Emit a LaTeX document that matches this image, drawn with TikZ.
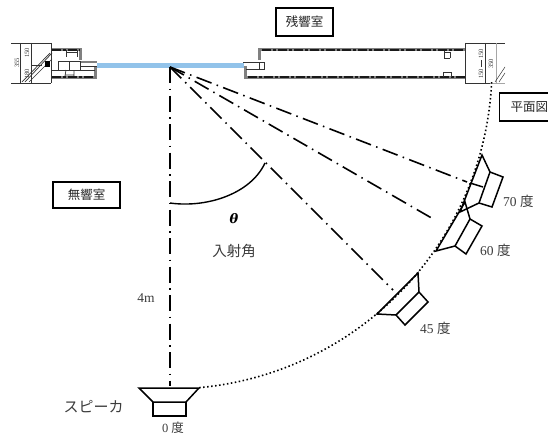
\documentclass[tikz,border=0pt]{standalone}
\usepackage{fontspec}
\setmainfont{Liberation Serif}
\newfontfamily\cjk{Noto Sans CJK JP}
\definecolor{mirrorblue}{HTML}{92C3EA}
\definecolor{labelgray}{HTML}{3C3C3C}
\tikzset{
  roomlabel/.style={draw=black,line width=1.6pt,inner sep=0pt,font=\cjk\fontsize{12.5}{14}\selectfont,text=black!85},
  plainlabel/.style={inner sep=0pt,text=labelgray,font=\fontsize{13.5}{15}\selectfont},
  ray/.style={line width=1.6pt,dash pattern=on 16pt off 5.5pt on 1.5pt off 5.5pt,black},
  spk/.style={line width=1.5pt,black,line join=miter},
  wallg/.style={line width=3pt,black!50},
  wallh/.style={line width=1.4pt,black!90,dash pattern=on 9pt off 2pt on 3pt off 2pt},
  thin1/.style={line width=.7pt,black!80},
  tinytext/.style={inner sep=0pt,rotate=90,text=black!80,font=\fontsize{6.5}{6.5}\selectfont}
}
\begin{document}
\begin{tikzpicture}[x=1pt,y=-1pt]
\useasboundingbox (0,0) rectangle (548,436);
\fill[white] (0,0) rectangle (548,436);
\begin{scope}
\clip (0,0) rectangle (548,436);
% coordinates
\coordinate (apex) at (170,67);
\coordinate (r0) at (170,386);
\coordinate (r45) at (393,290);
\coordinate (r60) at (435,220);
\coordinate (r70) at (467,182);
\coordinate (th1) at (170,203);
\coordinate (th2) at (265,163);
\coordinate (mirA) at (97,65);
\coordinate (mirB) at (244,65);
% mirror
\draw[mirrorblue,line width=5pt] (mirA) -- (mirB);
% left structure
\draw[thin1,line width=.9pt] (11,43) -- (51,43) (11,83) -- (51,83);
\draw[thin1] (20,43) -- (20,83) (31,43) -- (31,83) (51,43) -- (51,83);
\draw[thin1] (25,82) -- (52,53) (29,82) -- (52,59) (22,82) -- (50,53);
\draw[thin1] (31,65) -- (42,65);
\fill[black] (45,61) rectangle (50,67);
\draw[wallg] (52,50) -- (80,50) -- (80,60);
\draw[wallh] (52,50) -- (80,50);
\draw[wallg] (52,77) -- (95,77) -- (95,67);
\draw[wallh] (52,77) -- (95,77);
\draw[wallg,line width=2pt] (81,62) -- (97,62);
\draw[thin1] (58,61) -- (80,61) -- (80,70) -- (58,70) -- cycle (69,61) -- (69,70);
\draw[thin1] (80,66) -- (97,66) (80,62) -- (80,70) (52,70) -- (58,70) (80,70) -- (95,70);
\draw[thin1] (66,50) -- (66,57) (77,50) -- (77,57) (66,52) -- (77,52);
\draw[thin1] (66,70) -- (65,76) (74,70) -- (74,76) (65,75) -- (74,75);
\node[tinytext] (t355) at (17,63) {355};
\node[tinytext] (t150a) at (27,53) {150};
\node[tinytext] (t180) at (27,74) {180};
% right structure
\draw[wallg] (259,60) -- (259,50) -- (465,50);
\draw[wallh] (262,50) -- (465,50);
\draw[wallg] (245,66) -- (245,77) -- (465,77);
\draw[wallh] (248,77) -- (465,77);
\draw[thin1] (243,62) -- (264,62) -- (264,69) -- (246,69) (259,62) -- (259,69);
\draw[thin1] (444,51) -- (444,58) -- (450,58) (444,52) -- (450,52) (450,52) -- (450,58);
\draw[thin1] (443,77) -- (443,72) -- (451,72) -- (451,77);
\draw[thin1,line width=.8pt] (465,43) -- (505,43) (465,83) -- (490,83) (465,43) -- (465,83) (485,43) -- (485,83);
\draw[black!35,line width=.7pt] (496,43) -- (496,83) (490,83) -- (505,83);
\draw[thin1,line width=.5pt] (495,82) -- (505,67) (499,82) -- (505,73);
\node[tinytext] (t150b) at (481,54) {150};
\node[tinytext] (t150c) at (481,74) {150};
\node[tinytext] (t350) at (491,64) {350};
\draw[thin1,line width=.5pt] (481,60) -- (481,67);
% dotted arc
\draw[line width=1.6pt,dash pattern=on 1.5pt off 2.5pt,black]
  plot[smooth,domain=5.2:87.5,samples=60] ({170+322*sin(\x)},{67+322*cos(\x)});
% rays
\draw[ray] (apex) -- (r0);
\draw[ray] (apex) -- (r45);
\draw[ray] (apex) -- (r60);
\draw[ray] (apex) -- (r70);
% angle
\draw[line width=1.4pt] (th1) .. controls (205,208) and (250,195) .. (th2);
% speakers
\draw[spk] (139,388) -- (199,388) -- (186,402) -- (153,402) -- cycle;
\draw[spk] (153,402) -- (153,416) -- (186,416) -- (186,402);
\draw[spk] (377,314) -- (418,273) -- (419,292) -- (396,315) -- cycle;
\draw[spk] (396,315) -- (405,325) -- (428,302) -- (419,292);
\draw[spk] (436,251) -- (465,202) -- (470,219) -- (455,246) -- cycle;
\draw[spk] (455,246) -- (466,254) -- (482,226) -- (470,219);
\draw[spk] (460,212) -- (482,155) -- (490,172) -- (479,203) -- cycle;
\draw[spk] (479,203) -- (492,207) -- (503,177) -- (490,172);
\draw[spk] (470,183) -- (483,187);
% boxed labels
\node[roomlabel,minimum width=57pt,minimum height=28pt] (echo) at (304.5,22) {残響室};
\node[roomlabel,minimum width=67pt,minimum height=26pt] (anech) at (86.5,195) {無響室};
\node[roomlabel,minimum width=60pt,minimum height=28pt,anchor=west] (plan) at (498.5,107) {平面図};
% labels
\node[plainlabel,font=\fontsize{13}{14}\selectfont,text=black] (theta) at (234,219) {\fontspec{DejaVu Serif}[BoldItalicFont={DejaVu Serif Bold Italic}]\bfseries\itshape θ};
\node[plainlabel,font=\cjk\fontsize{14.5}{16}\selectfont] (inc) at (234,251) {入射角};
\node[plainlabel] (fourm) at (146,298) {4m};
\node[plainlabel,font=\cjk\fontsize{15}{17}\selectfont] (sp) at (93.5,407) {スピーカ};
\node[plainlabel,font=\fontsize{12.5}{14}\selectfont,anchor=base] (d0) at (173,432) {0 {\cjk 度}};
\node[plainlabel,anchor=west] (d45) at (420,328) {45 {\cjk 度}};
\node[plainlabel,anchor=west] (d60) at (480,250) {60 {\cjk 度}};
\node[plainlabel,anchor=west] (d70) at (503,201) {70 {\cjk 度}};
\end{scope}
\end{tikzpicture}
\end{document}
